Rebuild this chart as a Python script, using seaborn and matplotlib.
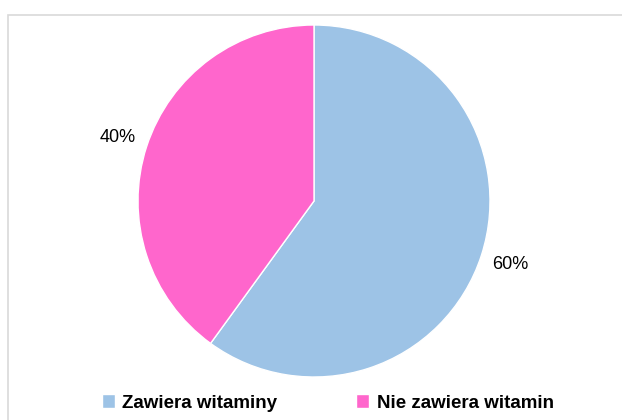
import matplotlib
matplotlib.use("Agg")
import matplotlib.pyplot as plt
import seaborn as sns
from matplotlib.patches import Rectangle

# Data
labels = ['Zawiera witaminy', 'Nie zawiera witamin']
values = [60, 40]
colors = ['#9DC3E6', '#FF66CC']

sns.set_theme(style='white')
plt.rcParams['font.family'] = ['Liberation Sans', 'DejaVu Sans']

fig = plt.figure(figsize=(6.22, 4.2), dpi=100)

# chart border
fig.patches.append(Rectangle((8 / 622, -0.05), 1.0, (420 - 15) / 420 + 0.05,
                             transform=fig.transFigure, fill=False,
                             edgecolor='#d9d9d9', linewidth=1.2))

ax = fig.add_axes([138 / 622, 43 / 420, 352 / 622, 352 / 420])
wedges, texts, autotexts = ax.pie(values, colors=colors, startangle=90, counterclock=False,
                                  autopct='%1.0f%%', pctdistance=1.17, radius=1,
                                  wedgeprops=dict(edgecolor='white', linewidth=1),
                                  textprops=dict(fontsize=13, color='black'))
ax.set_xlim(-1, 1)
ax.set_ylim(-1, 1)
ax.set_aspect('equal')

fig.legend(wedges, labels, loc='center', bbox_to_anchor=(0.527, 17 / 420), ncol=2,
           frameon=False, handlelength=0.7, handleheight=0.7, handletextpad=0.4,
           columnspacing=4.2, prop=dict(weight='bold', size=13.5),
           labelcolor='black')

fig.savefig('out.png', dpi=100)
